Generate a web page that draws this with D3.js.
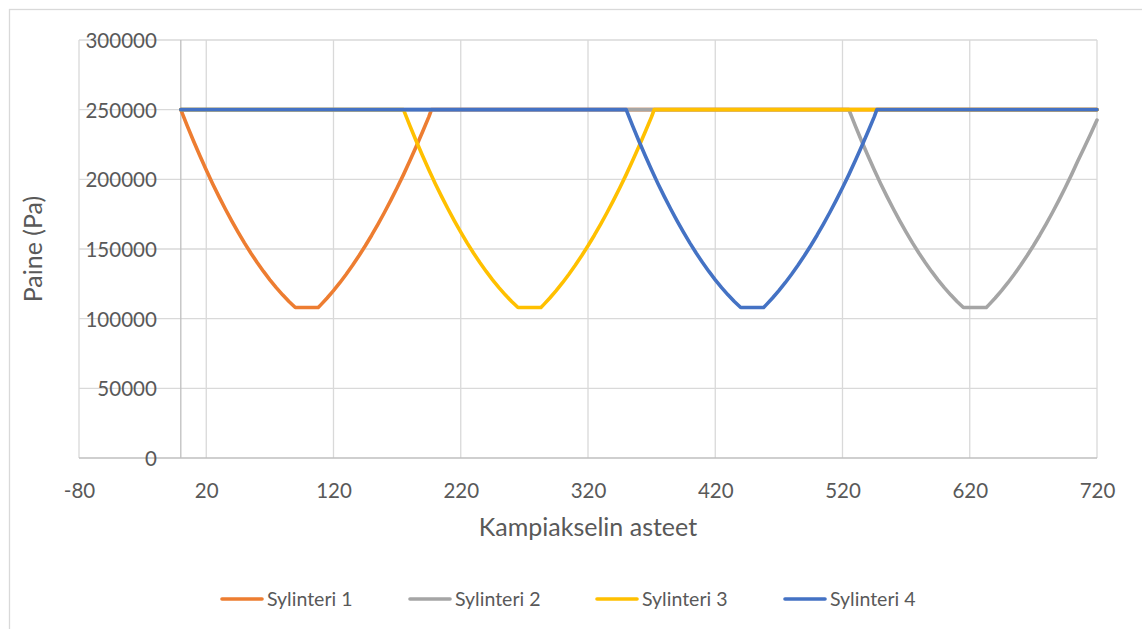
<!DOCTYPE html>
<html>
<head>
<meta charset="utf-8">
<script src="https://cdn.jsdelivr.net/npm/d3@7"></script>
<style>
  body { margin: 0; background: #fff; }
  svg { display: block; }
  text { font-family: Lato, "Open Sans", sans-serif; fill: #595959; }
</style>
</head>
<body>
<svg id="chart" width="1142" height="629"></svg>
<script>
// Crank angle (deg) and cylinder pressure (Pa) for each cylinder
const seriesNames = ["Sylinteri 1", "Sylinteri 2", "Sylinteri 3", "Sylinteri 4"];
const seriesColors = ["#ED7D31", "#A5A5A5", "#FFC000", "#4472C4"];

const angles1 = [0, 5, 10, 15, 20, 25, 30, 35, 40, 45, 50, 55, 60, 65, 70, 75, 80, 85, 90,
  108, 110, 115, 120, 125, 130, 135, 140, 145, 150, 155, 160, 165, 170, 175, 180, 185, 190, 195, 197, 720];
const pressures1 = [250000, 238500, 227500, 216900, 206700, 196900, 187600, 178700, 170200, 162100,
  154400, 147100, 140300, 133900, 127900, 122300, 117100, 112300, 108000,
  108000, 109900, 114800, 120100, 125800, 131900, 138300, 145100, 152300, 159900, 167900,
  176200, 184900, 194000, 203400, 213300, 223500, 234100, 245000, 250000, 250000];

const angles2 = [0, 525, 530, 535, 540, 545, 550, 555, 560, 565, 570, 575, 580, 585, 590, 595, 600, 605, 610, 615,
  633, 635, 640, 645, 650, 655, 660, 665, 670, 675, 680, 685, 690, 695, 700, 705, 710, 715, 720];
const pressures2 = [250000, 250000, 238500, 227500, 216900, 206700, 196900, 187600, 178700, 170200, 162100,
  154400, 147100, 140300, 133900, 127900, 122300, 117100, 112300, 108000,
  108000, 109900, 114800, 120100, 125800, 131900, 138300, 145100, 152300, 159900, 167900,
  176200, 184900, 194000, 203400, 213300, 222800, 232500, 242500];

const angles3 = [0, 175, 180, 185, 190, 195, 200, 205, 210, 215, 220, 225, 230, 235, 240, 245, 250, 255, 260, 265,
  283, 285, 290, 295, 300, 305, 310, 315, 320, 325, 330, 335, 340, 345, 350, 355, 360, 365, 370, 372, 720];
const pressures3 = [250000, 250000, 238500, 227500, 216900, 206700, 196900, 187600, 178700, 170200, 162100,
  154400, 147100, 140300, 133900, 127900, 122300, 117100, 112300, 108000,
  108000, 109900, 114800, 120100, 125800, 131900, 138300, 145100, 152300, 159900, 167900,
  176200, 184900, 194000, 203400, 213300, 223500, 234100, 245000, 250000, 250000];

const angles4 = [0, 350, 355, 360, 365, 370, 375, 380, 385, 390, 395, 400, 405, 410, 415, 420, 425, 430, 435, 440,
  458, 460, 465, 470, 475, 480, 485, 490, 495, 500, 505, 510, 515, 520, 525, 530, 535, 540, 545, 547, 720];
const pressures4 = [250000, 250000, 238500, 227500, 216900, 206700, 196900, 187600, 178700, 170200, 162100,
  154400, 147100, 140300, 133900, 127900, 122300, 117100, 112300, 108000,
  108000, 109900, 114800, 120100, 125800, 131900, 138300, 145100, 152300, 159900, 167900,
  176200, 184900, 194000, 203400, 213300, 223500, 234100, 245000, 250000, 250000];

const xTicks = [-80, 20, 120, 220, 320, 420, 520, 620, 720];
const yTicks = [0, 50000, 100000, 150000, 200000, 250000, 300000];

const xTitle = "Kampiakselin asteet";
const yTitle = "Paine (Pa)";

const allAngles = [angles1, angles2, angles3, angles4];
const allPressures = [pressures1, pressures2, pressures3, pressures4];
const series = seriesNames.map((name, i) => ({
  name,
  color: seriesColors[i],
  points: allAngles[i].map((a, j) => [a, allPressures[i][j]])
}));

const svg = d3.select("#chart");
const plot = { left: 79, right: 1097, top: 40, bottom: 458 };

const x = d3.scaleLinear().domain([-80, 720]).range([plot.left, plot.right]);
const y = d3.scaleLinear().domain([0, 300000]).range([plot.bottom, plot.top]);

// outer chart frame
svg.append("rect")
  .attr("x", 9.5).attr("y", 9.5)
  .attr("width", 1200).attr("height", 700)
  .attr("fill", "none").attr("stroke", "#d9d9d9").attr("stroke-width", 1.3);

// gridlines
const grid = svg.append("g");
grid.selectAll("line.v").data(xTicks).join("line")
  .attr("class", "v")
  .attr("x1", d => x(d)).attr("x2", d => x(d))
  .attr("y1", plot.top).attr("y2", plot.bottom)
  .attr("stroke", "#d9d9d9").attr("stroke-width", 1.3);
grid.selectAll("line.h").data(yTicks.filter(d => d !== 0)).join("line")
  .attr("class", "h")
  .attr("x1", plot.left).attr("x2", plot.right)
  .attr("y1", d => y(d)).attr("y2", d => y(d))
  .attr("stroke", "#d9d9d9").attr("stroke-width", 1.3);

// axis lines (value axis crosses at 0 degrees)
svg.append("line")
  .attr("x1", plot.left).attr("x2", plot.right)
  .attr("y1", y(0)).attr("y2", y(0))
  .attr("stroke", "#bfbfbf").attr("stroke-width", 1.3);
svg.append("line")
  .attr("x1", x(0)).attr("x2", x(0))
  .attr("y1", plot.top).attr("y2", plot.bottom)
  .attr("stroke", "#bfbfbf").attr("stroke-width", 1.3);

// tick labels
const xAxis = svg.append("g")
  .attr("transform", `translate(0,${plot.bottom})`)
  .call(d3.axisBottom(x).tickValues(xTicks).tickFormat(d => String(d)).tickSize(0));
xAxis.select(".domain").remove();
xAxis.selectAll("text")
  .attr("y", 40).attr("dy", 0)
  .style("font-size", "20.5px").style("fill", "#595959")
  .style("font-family", "Lato, 'Open Sans', sans-serif");

const yAxis = svg.append("g")
  .attr("transform", `translate(${x(0)},0)`)
  .call(d3.axisLeft(y).tickValues(yTicks).tickFormat(d => String(d)).tickSize(0).tickPadding(24));
yAxis.select(".domain").remove();
yAxis.selectAll("text")
  .attr("dy", "0.36em")
  .style("font-size", "20.5px").style("fill", "#595959")
  .style("font-family", "Lato, 'Open Sans', sans-serif");

// axis titles
svg.append("text")
  .attr("x", (plot.left + plot.right) / 2).attr("y", 536)
  .attr("text-anchor", "middle")
  .style("font-size", "25px")
  .text(xTitle);
svg.append("text")
  .attr("transform", `translate(42,${(plot.top + plot.bottom) / 2}) rotate(-90)`)
  .attr("text-anchor", "middle")
  .style("font-size", "25px")
  .text(yTitle);

// series lines
const line = d3.line().x(d => x(d[0])).y(d => y(d[1]));
svg.append("g").selectAll("path").data(series).join("path")
  .attr("d", d => line(d.points))
  .attr("fill", "none")
  .attr("stroke", d => d.color)
  .attr("stroke-width", 3.6)
  .attr("stroke-linejoin", "round")
  .attr("stroke-linecap", "round");

// legend
const legendX = [222, 410, 597, 785];
const legend = svg.append("g").selectAll("g").data(series).join("g")
  .attr("transform", (d, i) => `translate(${legendX[i]},599)`);
legend.append("line")
  .attr("x1", 0).attr("x2", 40).attr("y1", 0).attr("y2", 0)
  .attr("stroke", d => d.color).attr("stroke-width", 3.6)
  .attr("stroke-linecap", "round");
legend.append("text")
  .attr("x", 45).attr("dy", "0.35em")
  .style("font-size", "19.5px")
  .text(d => d.name);
</script>
</body>
</html>
